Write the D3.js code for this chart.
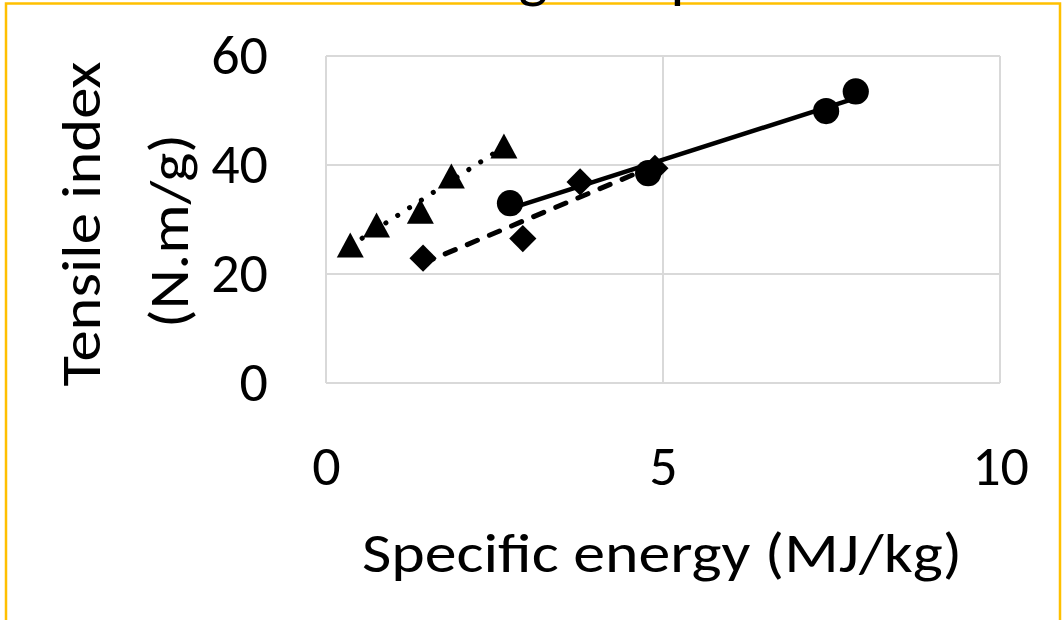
<!DOCTYPE html>
<html>
<head>
<meta charset="utf-8">
<script src="https://cdn.jsdelivr.net/npm/d3@7"></script>
<style>
  body { margin: 0; background: #fff; }
  text { font-family: Carlito, Calibri, Lato, sans-serif; fill: #000; }
</style>
</head>
<body>
<div id="chart"></div>
<script>
// data
var xTicks = [0, 5, 10];
var yTicks = [0, 20, 40, 60];

var triangleX = [0.36, 0.75, 1.40, 1.86, 2.64];
var triangleY = [25.3, 29.0, 31.5, 38.0, 43.5];

var diamondX = [1.44, 2.92, 3.77, 4.88];
var diamondY = [22.9, 26.5, 36.9, 39.4];

var circleX = [2.73, 4.78, 7.42, 7.86];
var circleY = [33.0, 38.5, 49.9, 53.5];

var chartTitle = "Refining and pressure";
var xTitle = "Specific energy (MJ/kg)";
var yTitle = ["Tensile index", "(N.m/g)"];

var width = 1064,
    height = 620,
    plotLeft = 326,
    plotRight = 1000,
    plotTop = 56,
    plotBottom = 383;

var x = d3.scaleLinear().domain([0, 10]).range([plotLeft, plotRight]);
var y = d3.scaleLinear().domain([0, 60]).range([plotBottom, plotTop]);

var svg = d3.select("#chart").append("svg")
    .attr("width", width)
    .attr("height", height);

svg.append("rect")
    .attr("width", width)
    .attr("height", height)
    .style("fill", "#fff");

// chart frame (only top, left, right are in view)
svg.append("path")
    .attr("d", "M6,640 V3.5 H1060 V640")
    .style("fill", "none")
    .style("stroke", "#FFC000")
    .style("stroke-width", 2.5);

// title, mostly above the visible area
var title = svg.append("text")
    .attr("y", -4)
    .style("font-size", "62px")
    .text(chartTitle);
var gPos = title.node().getExtentOfChar(chartTitle.indexOf("g"));
title.attr("x", 533 - (gPos.x + gPos.width / 2));

// gridlines
svg.append("g")
    .selectAll("line")
    .data(yTicks)
    .enter().append("line")
    .attr("x1", plotLeft)
    .attr("x2", plotRight)
    .attr("y1", function (d) { return y(d); })
    .attr("y2", function (d) { return y(d); })
    .style("stroke", "#d9d9d9")
    .style("stroke-width", 2);

svg.append("g")
    .selectAll("line")
    .data(xTicks)
    .enter().append("line")
    .attr("x1", function (d) { return x(d); })
    .attr("x2", function (d) { return x(d); })
    .attr("y1", plotTop)
    .attr("y2", plotBottom)
    .style("stroke", "#d9d9d9")
    .style("stroke-width", 2);

// tick labels
var yAxis = svg.append("g")
    .attr("transform", "translate(" + plotLeft + ",0)")
    .call(d3.axisLeft(y).tickValues(yTicks).tickSize(0).tickPadding(58));
var xAxis = svg.append("g")
    .attr("transform", "translate(0," + plotBottom + ")")
    .call(d3.axisBottom(x).tickValues(xTicks).tickSize(0).tickPadding(60));
[yAxis, xAxis].forEach(function (a) {
  a.select(".domain").remove();
  a.selectAll("text")
      .attr("font-family", null)
      .style("font-size", "56px")
      .style("fill", "#000");
});
xAxis.selectAll("text").attr("dy", null).attr("y", 102);

// axis titles (stretched to the width Calibri would give)
svg.append("text")
    .attr("x", 662)
    .attr("y", 572)
    .attr("text-anchor", "middle")
    .attr("textLength", 600)
    .attr("lengthAdjust", "spacingAndGlyphs")
    .style("font-size", "56px")
    .text(xTitle);

svg.append("text")
    .attr("transform", "translate(100,224) rotate(-90)")
    .attr("text-anchor", "middle")
    .attr("textLength", 325)
    .attr("lengthAdjust", "spacingAndGlyphs")
    .style("font-size", "56px")
    .text(yTitle[0]);
svg.append("text")
    .attr("transform", "translate(188,231) rotate(-90)")
    .attr("text-anchor", "middle")
    .attr("textLength", 194)
    .attr("lengthAdjust", "spacingAndGlyphs")
    .style("font-size", "56px")
    .text(yTitle[1]);

// linear trendline over the series' x range
function trend(xs, ys) {
  var mx = d3.mean(xs), my = d3.mean(ys);
  var sxy = d3.sum(xs, function (v, i) { return (v - mx) * (ys[i] - my); });
  var sxx = d3.sum(xs, function (v) { return (v - mx) * (v - mx); });
  var slope = sxy / sxx, icept = my - slope * mx;
  var ext = d3.extent(xs);
  return ext.map(function (v) { return [v, icept + slope * v]; });
}

function zip(xs, ys) {
  return xs.map(function (v, i) { return [v, ys[i]]; });
}

var line = d3.line()
    .x(function (d) { return x(d[0]); })
    .y(function (d) { return y(d[1]); });

var triangle = function () {
  var p = d3.path();
  p.moveTo(0, -12.5);
  p.lineTo(13.5, 12.5);
  p.lineTo(-13.5, 12.5);
  p.closePath();
  return p.toString();
};

var series = [
  { xs: triangleX, ys: triangleY, shape: triangle, dash: "0.1 14", width: 5, cap: "round" },
  { xs: diamondX, ys: diamondY,
    shape: d3.symbol().type(d3.symbolSquare).size(370), rotate: 45,
    dash: "11 13", width: 5, cap: "round" },
  { xs: circleX, ys: circleY, shape: d3.symbol().type(d3.symbolCircle).size(540),
    dash: null, width: 4.5, cap: "butt" }
];

series.forEach(function (s) {
  svg.append("g")
      .selectAll("path")
      .data(zip(s.xs, s.ys))
      .enter().append("path")
      .attr("transform", function (d) {
        return "translate(" + x(d[0]) + "," + y(d[1]) + ")" + (s.rotate ? " rotate(" + s.rotate + ")" : "");
      })
      .attr("d", s.shape)
      .style("fill", "#000");
});

series.forEach(function (s) {
  svg.append("path")
      .datum(trend(s.xs, s.ys))
      .attr("d", line)
      .style("fill", "none")
      .style("stroke", "#000")
      .style("stroke-width", s.width)
      .style("stroke-linecap", s.cap)
      .style("stroke-dasharray", s.dash);
});
</script>
</body>
</html>
